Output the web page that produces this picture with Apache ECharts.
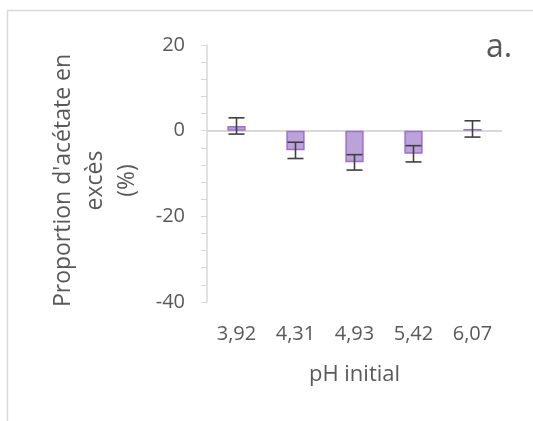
<!DOCTYPE html>
<html>
<head>
<meta charset="utf-8">
<script src="https://cdn.jsdelivr.net/npm/echarts@6/dist/echarts.min.js"></script>
<style>
  html, body { margin: 0; padding: 0; background: #ffffff; }
  #chart { width: 533px; height: 421px; }
</style>
</head>
<body>
<div id="chart"></div>
<script>
// Initial pH of each culture (category labels)
const categories = ['3,92', '4,31', '4,93', '5,42', '6,07'];
// Excess acetate proportion (%) and its error half-width
const values = [1.1, -4.6, -7.4, -5.4, 0.4];
const errors = [1.9, 1.9, 1.8, 1.9, 1.9];
// Value-axis range and tick spacing
const yMin = -40, yMax = 20, yStep = 20;

const textColor = '#595959';
const lineGray = '#d9d9d9';
const fontFamily = '"Open Sans", "Noto Sans", sans-serif';

const chart = echarts.init(document.getElementById('chart'), null, { renderer: 'canvas' });

chart.setOption({
  backgroundColor: '#ffffff',
  animation: false,
  title: {
    text: 'a.',
    left: 481,
    top: 27,
    textStyle: { color: textColor, fontSize: 32, fontWeight: 'normal', fontFamily: fontFamily }
  },
  graphic: [{
    type: 'rect',
    shape: { x: 7.5, y: 10.5, width: 600, height: 500 },
    style: { fill: 'none', stroke: lineGray, lineWidth: 1.5 },
    silent: true,
    z: -10
  }],
  grid: { left: 207, right: 31, top: 45, bottom: 119, containLabel: false },
  xAxis: {
    type: 'category',
    data: categories,
    name: 'pH initial',
    nameLocation: 'middle',
    nameGap: 62,
    nameTextStyle: { color: textColor, fontSize: 22, fontFamily: fontFamily },
    axisLine: { show: false, onZero: false },
    axisTick: { show: false },
    axisLabel: { color: textColor, fontSize: 20, fontFamily: fontFamily, margin: 22 },
    splitLine: { show: false }
  },
  yAxis: {
    type: 'value',
    min: yMin,
    max: yMax,
    interval: yStep,
    name: "Proportion d'acétate en\nexcès\n(%)",
    nameLocation: 'middle',
    nameGap: 64,
    nameTextStyle: {
      color: textColor, fontSize: 23, fontFamily: fontFamily, lineHeight: 32,
      padding: [0, 14, 0, 0]
    },
    axisLine: { show: true, lineStyle: { color: lineGray, width: 1.5 } },
    axisTick: { show: true, length: 6, lineStyle: { color: lineGray, width: 1 } },
    minorTick: { show: true, splitNumber: 5, length: 6, lineStyle: { color: lineGray, width: 1 } },
    axisLabel: { color: textColor, fontSize: 20, fontFamily: fontFamily, margin: 22 },
    splitLine: { show: false }
  },
  series: [
    {
      type: 'bar',
      data: values,
      barWidth: '31%',
      itemStyle: { color: '#bba2d8', borderColor: '#9d6fcf', borderWidth: 1.5 },
      markLine: {
        silent: true,
        symbol: 'none',
        label: { show: false },
        lineStyle: { color: lineGray, width: 2, type: 'solid' },
        data: [{ yAxis: 0 }],
        z: 1
      },
      z: 2
    },
    {
      type: 'custom',
      data: values.map((v, i) => [i, v - errors[i], v + errors[i]]),
      renderItem: function (params, api) {
        const lo = api.coord([api.value(0), api.value(1)]);
        const hi = api.coord([api.value(0), api.value(2)]);
        const half = 8;
        const style = { stroke: '#404040', lineWidth: 1.6 };
        return {
          type: 'group',
          children: [
            { type: 'line', shape: { x1: lo[0], y1: lo[1], x2: hi[0], y2: hi[1] }, style: style },
            { type: 'line', shape: { x1: lo[0] - half, y1: lo[1], x2: lo[0] + half, y2: lo[1] }, style: style },
            { type: 'line', shape: { x1: hi[0] - half, y1: hi[1], x2: hi[0] + half, y2: hi[1] }, style: style }
          ]
        };
      },
      z: 5
    }
  ]
});
</script>
</body>
</html>
